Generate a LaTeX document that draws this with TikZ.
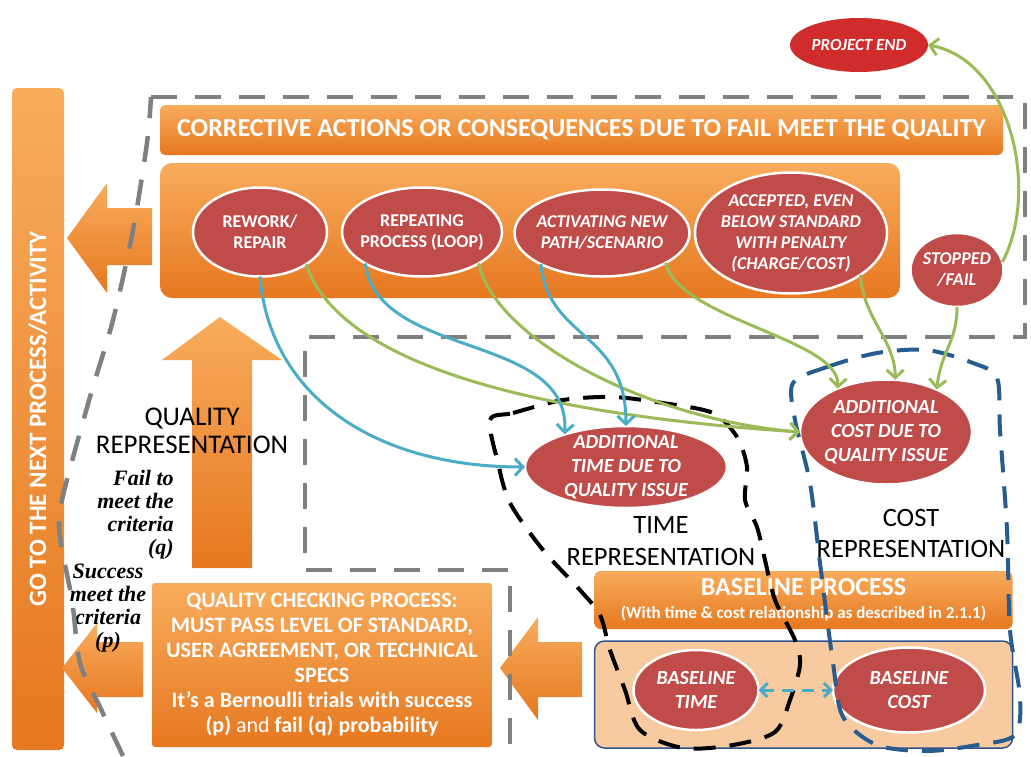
\documentclass[tikz,border=0pt]{standalone}
\usepackage{fontspec}
\setmainfont{Carlito}
\newfontfamily\critfont{Liberation Serif}
\usepackage{tikz}
\usetikzlibrary{shapes,arrows.meta,positioning,calc}

\definecolor{barlight}{RGB}{248,172,92}
\definecolor{bardark}{RGB}{230,120,32}
\definecolor{ovalred}{RGB}{192,76,74}
\definecolor{endred}{RGB}{208,44,44}
\definecolor{peach}{RGB}{248,202,160}
\definecolor{frameblue}{RGB}{47,85,140}
\definecolor{dashblue}{RGB}{40,92,142}
\definecolor{linkteal}{RGB}{75,172,198}
\definecolor{linkgreen}{RGB}{155,187,89}
\definecolor{dashgray}{RGB}{128,128,128}

\begin{document}
\begin{tikzpicture}[
    x=1pt, y=-1pt,
    outer sep=0pt,
    bar/.style={rectangle, rounded corners=5pt, top color=barlight, bottom color=bardark, text=white, align=center, font=\bfseries\fontsize{26}{30}\selectfont},
    oval/.style={ellipse, fill=ovalred, draw=white, line width=2.5pt, text=white, align=center, inner sep=-10pt, font=\bfseries\fontsize{18}{21}\selectfont},
    ovalit/.style={oval, font=\bfseries\itshape\fontsize{18}{21}\selectfont},
    reptext/.style={align=center, font=\fontsize{27}{28}\selectfont},
    crit/.style={font=\critfont\bfseries\itshape\fontsize{22}{23}\selectfont},
    teallink/.style={draw=linkteal, line width=3pt, -{Straight Barb[length=8pt,width=17pt]}},
    greenlink/.style={draw=linkgreen, line width=3pt, -{Straight Barb[length=8pt,width=17pt]}},
    tealdouble/.style={draw=linkteal, line width=3pt, dash pattern=on 12pt off 8pt, {Straight Barb[length=7pt,width=14pt]}-{Straight Barb[length=7pt,width=14pt]}},
    greydash/.style={draw=dashgray, line width=4.5pt, dash pattern=on 26pt off 18pt},
    blackdash/.style={draw=black, line width=4pt, dash pattern=on 22pt off 14pt},
    bluedash/.style={draw=dashblue, line width=4pt, dash pattern=on 22pt off 14pt},
    blockarrow/.style={top color=barlight, bottom color=bardark, draw=none}
]
    \useasboundingbox (0,0) rectangle (1031,756);

    % frames and bars
    \node [bar, rotate=90, minimum width=662, minimum height=52, font=\bfseries\fontsize{25}{30}\selectfont] (nextbar) at (38,419) {GO TO THE NEXT PROCESS/ACTIVITY};
    \node [bar, minimum width=843, minimum height=50] (header) at (581.5,130) {CORRECTIVE ACTIONS OR CONSEQUENCES DUE TO FAIL MEET THE QUALITY};
    \node [bar, rounded corners=12pt, minimum width=740, minimum height=135] (actions) at (530,230.5) {};
    \node [bar, rounded corners=3pt, minimum width=340, minimum height=164, font=\bfseries\fontsize{22}{25}\selectfont] (qcheck) at (322,665)
        {QUALITY CHECKING PROCESS:\\MUST PASS LEVEL OF STANDARD,\\USER AGREEMENT, OR TECHNICAL\\SPECS\\It’s a Bernoulli trials with success\\(p) {\mdseries and} fail (q) probability};
    \node [bar, rounded corners=6pt, minimum width=418, minimum height=58] (baseline) at (803.5,600)
        {BASELINE PROCESS\\[-7pt]{\fontsize{17}{19}\selectfont (With time \& cost relationship as described in 2.1.1)}};
    \node [rectangle, rounded corners=10pt, fill=peach, draw=frameblue, line width=1.5pt, minimum width=418, minimum height=107, below=12pt of baseline] (basebox) {};

    % block arrows
    \path [blockarrow] (67,238) -- (107,183) -- (107,208) -- (152,208) -- (152,265) -- (107,265) -- (107,293) -- cycle;
    \path [blockarrow] (62,668) -- (97,623) -- (97,642) -- (143,642) -- (143,697) -- (97,697) -- (97,713) -- cycle;
    \path [blockarrow] (500,668) -- (538,617) -- (538,642) -- (582,642) -- (582,697) -- (538,697) -- (538,720) -- cycle;
    \path [blockarrow] (220,317) -- (282,360) -- (252,360) -- (252,568) -- (192,568) -- (192,360) -- (162,360) -- cycle;

    % consequences
    \node [oval, minimum width=134, minimum height=89] (rework) at (260,232) {REWORK/\\REPAIR};
    \node [oval, minimum width=160, minimum height=89] (repeating) at (422,232) {REPEATING\\PROCESS (LOOP)};
    \node [ovalit, minimum width=175, minimum height=87] (newpath) at (602,233) {ACTIVATING NEW\\PATH/SCENARIO};
    \node [ovalit, minimum width=192, minimum height=121] (accepted) at (791,233) {ACCEPTED, EVEN\\BELOW STANDARD\\WITH PENALTY\\(CHARGE/COST)};
    \node [ovalit, minimum width=93, minimum height=74] (stopped) at (957,270) {STOPPED\\/FAIL};
    \node [ovalit, draw=none, fill=endred, minimum width=138, minimum height=54, font=\bfseries\itshape\fontsize{17}{20}\selectfont] (projend) at (859,45) {PROJECT END};

    % time and cost
    \node [ovalit, minimum width=202, minimum height=82, font=\bfseries\itshape\fontsize{20}{24}\selectfont] (addtime) at (626,467) {ADDITIONAL\\TIME DUE TO\\QUALITY ISSUE};
    \node [ovalit, minimum width=172, minimum height=105, font=\bfseries\itshape\fontsize{20}{24}\selectfont] (addcost) at (886,432) {ADDITIONAL\\COST DUE TO\\QUALITY ISSUE};
    \node [ovalit, minimum width=125, minimum height=80, font=\bfseries\itshape\fontsize{20}{24}\selectfont] (basetime) at (696,690) {BASELINE\\TIME};
    \node [ovalit, minimum width=152, minimum height=85, font=\bfseries\itshape\fontsize{20}{24}\selectfont] (basecost) at (909,690) {BASELINE\\COST};

    % labels
    \node [reptext] (qualrep) at (192,431) {QUALITY\\REPRESENTATION};
    \node [reptext, font=\fontsize{26.5}{32}\selectfont] (timerep) at (661,541) {TIME\\REPRESENTATION};
    \node [reptext, font=\fontsize{26.5}{31}\selectfont] (costrep) at (911,533) {COST\\REPRESENTATION};
    \node [crit, align=right, anchor=east] (failtxt) at (177,515) {Fail to\\meet the\\criteria\\(q)};
    \node [crit, align=center] (successtxt) at (108,608) {Success\\meet the\\criteria\\(p)};

    % dashed regions
    \draw [greydash] plot [smooth] coordinates {(123,756) (100,707) (80,663) (72,600) (60,537) (62,500) (90,397) (113,320) (133,230) (147,143) (151,97)};
    \draw [greydash] (151,97) -- (1025,97) -- (1025,337) -- (305,337) -- (305,570) -- (510,570) -- (510,756);
    \draw [blackdash] plot [smooth cycle] coordinates {(490,420) (513,413) (563,400) (613,397) (663,403) (713,413) (737,437) (747,467) (745,500) (757,527) (765,560) (775,600) (795,640) (800,665) (790,700) (775,732) (733,745) (683,748) (640,730) (625,690) (610,650) (600,615) (580,590) (543,550) (510,503) (498,463)};
    \draw [bluedash] plot [smooth cycle] coordinates {(793,383) (827,367) (877,353) (927,350) (973,363) (997,378) (1000,430) (1007,530) (1010,630) (1020,697) (1015,735) (977,745) (927,751) (877,745) (843,717) (833,663) (820,563) (810,483) (795,420)};

    % links
    \draw [teallink] (rework.south) .. controls +(10,120) and +(-150,0) .. (addtime.west);
    \draw [greenlink] (rework.-35) .. controls +(30,90) and +(-300,-20) .. (addcost.west);
    \draw [teallink] (repeating.209) .. controls +(13,97) and +(5,-103) .. (addtime.152);
    \draw [greenlink] (repeating.-29) .. controls +(17,77) and +(-150,-12) .. (addcost.west);
    \draw [teallink] (newpath.207) .. controls +(8,77) and +(0,-96) .. (addtime.north);
    \draw [greenlink] (newpath.-25) .. controls +(13,57) and +(2,-50) .. (addcost.138);
    \draw [greenlink] (accepted.-31) .. controls +(2,43) and +(0,-40) .. (addcost.80);
    \draw [greenlink] (stopped.south) .. controls +(0,35) and +(5,-40) .. (addcost.40);
    \draw [greenlink] (stopped.10) .. controls +(38,-72) and +(82,15) .. (projend.east);
    \draw [tealdouble] (basetime.east) -- (basecost.west);
\end{tikzpicture}
\end{document}
